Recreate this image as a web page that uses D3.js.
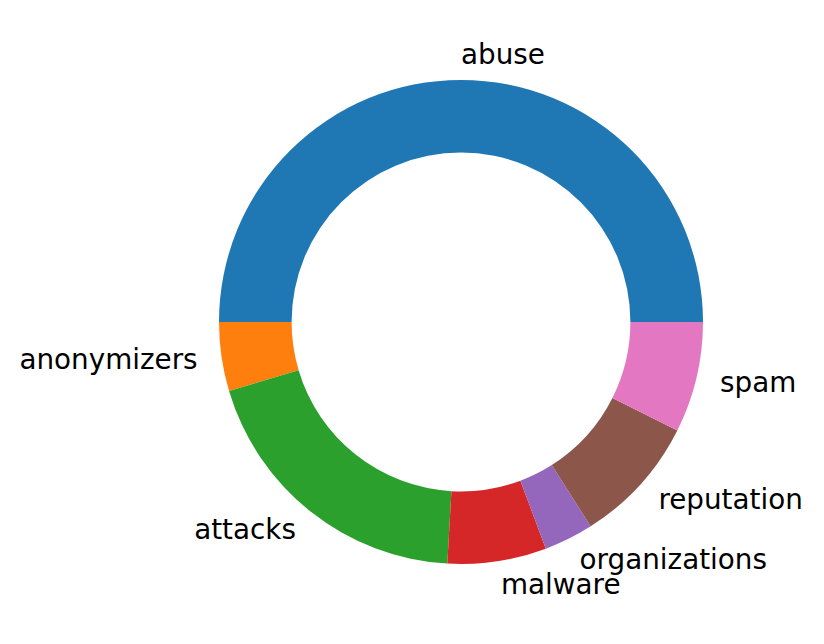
<!DOCTYPE html>
<html>
<head>
<meta charset="utf-8">
<script src="https://cdn.jsdelivr.net/npm/d3@7"></script>
<style>
  body { margin: 0; background: #fff; }
  text { font-family: "DejaVu Sans", sans-serif; }
</style>
</head>
<body>
<svg id="chart" width="824" height="644"></svg>
<script>
// data
var categories = ['abuse', 'anonymizers', 'attacks', 'malware', 'organizations', 'reputation', 'spam'],
    counts = [500, 46, 195, 66, 33, 86, 74],
    colors = ['#1f77b4', '#ff7f0e', '#2ca02c', '#d62728', '#9467bd', '#8c564b', '#e377c2'];

var svg = d3.select('#chart'),
    cx = 461,
    cy = 322,
    radius = 242,
    ringWidth = 0.3;

var g = svg.append('g').attr('transform', 'translate(' + cx + ',' + cy + ')');

// matplotlib style: start at 3 o'clock, go counterclockwise
var pie = d3.pie()
    .sort(null)
    .startAngle(Math.PI / 2)
    .endAngle(Math.PI / 2 - 2 * Math.PI);

var arc = d3.arc()
    .innerRadius(radius * (1 - ringWidth))
    .outerRadius(radius);

var slices = pie(counts);

g.selectAll('.slice').data(slices).enter()
  .append('path')
    .classed('slice', true)
    .attr('d', arc)
    .attr('fill', function(d, i) { return colors[i]; });

// labels at 1.1 * radius, aligned away from the centre
g.selectAll('.label').data(slices).enter()
  .append('text')
    .classed('label', true)
    .each(function(d, i) {
        var theta = Math.PI / 2 - (d.startAngle + d.endAngle) / 2,
            x = 1.1 * radius * Math.cos(theta),
            y = -1.1 * radius * Math.sin(theta);
        d3.select(this)
            .attr('x', x)
            .attr('y', y)
            .attr('dy', '0.3em')
            .attr('text-anchor', x > 0 ? 'start' : 'end')
            .text(categories[i]);
    })
    .style('font-size', '27.8px')
    .attr('fill', '#000');
</script>
</body>
</html>
